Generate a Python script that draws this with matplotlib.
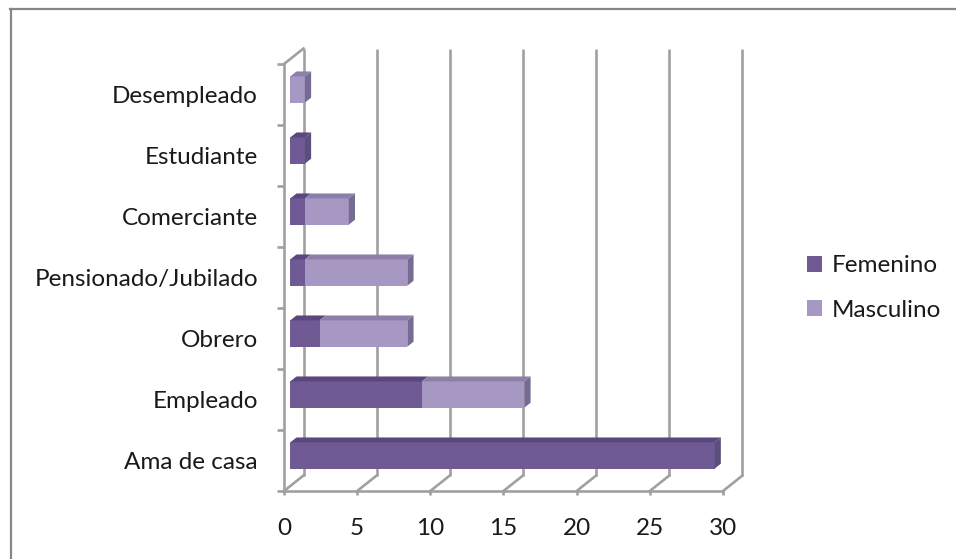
import matplotlib
matplotlib.use("Agg")
import matplotlib.pyplot as plt
from matplotlib.patches import Polygon, Patch
from matplotlib.lines import Line2D

plt.rcParams['font.family'] = ['Lato', 'DejaVu Sans']

# Categories listed bottom to top
categories = ["Ama de casa", "Empleado", "Obrero", "Pensionado/Jubilado",
              "Comerciante", "Estudiante", "Desempleado"]
femenino = [29, 9, 2, 1, 1, 1, 0]
masculino = [0, 7, 6, 7, 3, 0, 1]
series_names = ["Femenino", "Masculino"]
x_ticks = [0, 5, 10, 15, 20, 25, 30]

# colours: front face, top face, side face
face_cols = {"Femenino": ("#705a94", "#5a4780", "#5d4f7c"),
             "Masculino": ("#a697c3", "#8d80a8", "#766b92")}
grid_col = "#a0a0a0"
text_col = "#1a1a1a"
fs = 17.5

W, H = 956, 559
fig = plt.figure(figsize=(W / 100, H / 100), dpi=100)
fig.patch.set_facecolor("white")

# front plane of the 3-D box
x0_px, x1_px, yb_px, yt_px = 284, 723, 491, 64
ax = fig.add_axes([x0_px / W, (H - yb_px) / H, (x1_px - x0_px) / W, (yb_px - yt_px) / H])
ax.set_xlim(0, 30)
ax.set_ylim(-0.5, len(categories) - 0.5)
for s in ax.spines.values():
    s.set_visible(False)
ax.patch.set_alpha(0)

# depth of the box in data units
DX = 19.5 / ((x1_px - x0_px) / 30)
DY = 15.5 / ((yb_px - yt_px) / len(categories))
ylo, yhi = -0.5, len(categories) - 0.5
lw = 1.9

# back-wall gridlines and floor diagonals
for t in x_ticks:
    ax.plot([t + DX, t + DX], [ylo + DY, yhi + DY], color=grid_col, lw=lw,
            clip_on=False, zorder=1, solid_capstyle="butt")
    ax.plot([t, t + DX], [ylo, ylo + DY], color=grid_col, lw=lw, clip_on=False, zorder=1)
# front floor edge and left wall
ax.plot([0, 30], [ylo, ylo], color=grid_col, lw=lw, clip_on=False, zorder=1)
ax.plot([0, 0], [ylo, yhi], color=grid_col, lw=lw, clip_on=False, zorder=1)
ax.plot([0, DX], [yhi, yhi + DY], color=grid_col, lw=lw, clip_on=False, zorder=1)

# bars: front face at depth f0, back at f1
f0, f1 = 0.32, 0.64
h = 0.215
ox0, oy0 = f0 * DX, f0 * DY
ox1, oy1 = f1 * DX, f1 * DY
ypos = list(range(len(categories)))

left = [0] * len(categories)
segments = []
for name, vals in zip(series_names, [femenino, masculino]):
    front, top, side = face_cols[name]
    ax.barh([y + oy0 for y in ypos], vals, height=2 * h,
            left=[l + ox0 for l in left], color=front, zorder=3, clip_on=False,
            linewidth=0)
    for y, l, v in zip(ypos, left, vals):
        if v > 0:
            segments.append((y, l, l + v, top, side))
    left = [l + v for l, v in zip(left, vals)]

# top faces of every segment
for y, a, b, top, side in segments:
    yt = y + h
    ax.add_patch(Polygon([(a + ox0, yt + oy0), (b + ox0, yt + oy0),
                          (b + ox1, yt + oy1), (a + ox1, yt + oy1)],
                         closed=True, facecolor=top, edgecolor="none", zorder=3,
                         clip_on=False))

# right side face takes the colour of the outermost segment
totals = [f + m for f, m in zip(femenino, masculino)]
for y, tot in zip(ypos, totals):
    side = [s for s in segments if s[0] == y and s[2] == tot][0][4]
    ax.add_patch(Polygon([(tot + ox0, y - h + oy0), (tot + ox0, y + h + oy0),
                          (tot + ox1, y + h + oy1), (tot + ox1, y - h + oy1)],
                         closed=True, facecolor=side, edgecolor="none", zorder=3,
                         clip_on=False))

# ticks and labels
ax.set_xticks(x_ticks)
ax.set_xticklabels([str(t) for t in x_ticks])
ax.tick_params(axis="x", length=3, width=lw, color=grid_col, pad=16.5,
               labelsize=fs, labelcolor=text_col)
ax.set_yticks(ypos)
ax.set_yticklabels(categories)
ax.tick_params(axis="y", length=0, pad=18.7, labelsize=fs, labelcolor=text_col)
ax.set_yticks([y - 0.5 for y in ypos] + [yhi], minor=True)
ax.tick_params(axis="y", which="minor", length=5, width=lw, color=grid_col)

# legend
handles = [Patch(facecolor=face_cols[n][0], edgecolor="none") for n in series_names]
fig.legend(handles, series_names, loc="center left",
           bbox_to_anchor=(785 / W, (H - 288) / H), frameon=False,
           fontsize=fs, handlelength=0.62, handleheight=0.62, handletextpad=0.4,
           labelspacing=0.95, labelcolor=text_col)

# outer chart frame (top and left edges)
fig.add_artist(Line2D([10 / W, 1], [(H - 8.5) / H, (H - 8.5) / H],
                      transform=fig.transFigure, color="#868686", lw=1.6))
fig.add_artist(Line2D([10.5 / W, 10.5 / W], [0, (H - 8.5) / H],
                      transform=fig.transFigure, color="#868686", lw=1.6))

fig.savefig("out.png", dpi=100)
